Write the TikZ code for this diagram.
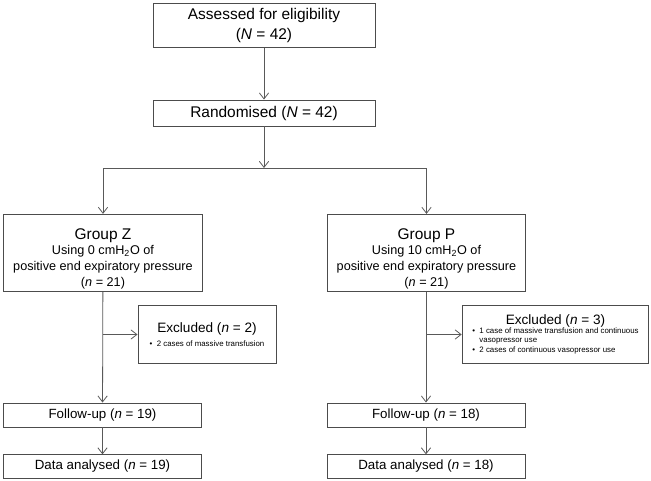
\documentclass[tikz,border=0pt]{standalone}
\usepackage{fontspec}
\setmainfont{Liberation Sans}
\usepackage{tikz}
\usetikzlibrary{arrows,arrows.meta,calc,positioning}

\tikzset{
	box/.style={draw=black!70, line width=0.7pt, fill=white, inner sep=2pt, align=center},
	line/.style={draw=black!65, line width=0.6pt},
	arr/.style={line, -{Straight Barb[length=4.5pt,width=7pt,line width=0.6pt]}},
}
\newcommand{\nn}{\textit{n}}
\newcommand{\NN}{\textit{N}}
\newcommand{\grouptitle}[1]{{\fontsize{11.6}{12}\selectfont\rule{0pt}{17pt}#1}}

\begin{document}
\begin{tikzpicture}[x=0.75pt,y=-0.75pt]
				\useasboundingbox (0,0) rectangle (651,481);
				% top of the chart
				\node[box, minimum width=166.5pt, minimum height=33pt, font=\fontsize{11.6}{15.5}\selectfont] (assess) at (264,25.5) {Assessed for eligibility\\(\NN{} = 42)};
				\node[box, minimum width=166.5pt, minimum height=19.5pt, font=\fontsize{11.6}{14}\selectfont] (rand) at (264,113) {Randomised (\NN{} = 42)};
				\coordinate (split) at (264,168);
				% the two groups
				\node[box, minimum width=149pt, minimum height=54pt, font=\fontsize{9.5}{12}\selectfont] (grpz) at (103,253) {\grouptitle{Group Z}\\[-1pt]Using 0 cmH\textsubscript{2}O of\\positive end expiratory pressure\\(\nn{} = 21)};
				\node[box, minimum width=149pt, minimum height=54pt, font=\fontsize{9.5}{12}\selectfont] (grpp) at (426.5,253) {\grouptitle{Group P}\\[-1pt]Using 10 cmH\textsubscript{2}O of\\positive end expiratory pressure\\(\nn{} = 21)};
				% exclusions
				\node[box, minimum width=103.5pt, minimum height=43pt, font=\fontsize{10.2}{12}\selectfont] (exclz) at (207,334.5) {Excluded (\nn{} = 2)\\[-1pt]{\fontsize{5.9}{7}\selectfont \textbullet\ \ 2 cases of massive transfusion}};
				\node[box, minimum width=140pt, minimum height=43pt, font=\fontsize{10.2}{12}\selectfont] (exclp) at (555.5,334.5) {Excluded (\nn{} = 3)\\[-1pt]{\fontsize{5.9}{7}\selectfont\begin{tabular}{@{}l@{\ \ }l@{}}\textbullet & 1 case of massive transfusion and continuous\\ & vasopressor use\\\textbullet & 2 cases of continuous vasopressor use\end{tabular}}};
				% follow-up and analysis
				\node[box, minimum width=148.5pt, minimum height=18pt, font=\fontsize{10}{12}\selectfont] (fupz) at (102.5,415) {Follow-up (\nn{} = 19)};
				\node[box, minimum width=148.5pt, minimum height=18pt, font=\fontsize{10}{12}\selectfont] (fupp) at (426,415) {Follow-up (\nn{} = 18)};
				\node[box, minimum width=148.5pt, minimum height=17.5pt, font=\fontsize{10}{12}\selectfont] (dataz) at (102.5,466.5) {Data analysed (\nn{} = 19)};
				\node[box, minimum width=148.5pt, minimum height=17.5pt, font=\fontsize{10}{12}\selectfont] (datap) at (426,466.5) {Data analysed (\nn{} = 18)};
				% connectors
				\draw[arr] (assess) -- (rand);
				\draw[arr] (rand) -- (split);
				\draw[arr] (split) -| (grpz);
				\draw[arr] (split) -| (grpp);
				\draw[arr] (grpz) -- (fupz);
				\draw[arr] (grpp.south -| fupp) -- (fupp);
				\draw[arr] (exclz.west -| grpz.south) -- (exclz.west);
				\draw[arr] (exclp.west -| fupp.north) -- (exclp.west);
				\draw[arr] (fupz) -- (dataz);
				\draw[arr] (fupp) -- (datap);
	\end{tikzpicture}
\end{document}
